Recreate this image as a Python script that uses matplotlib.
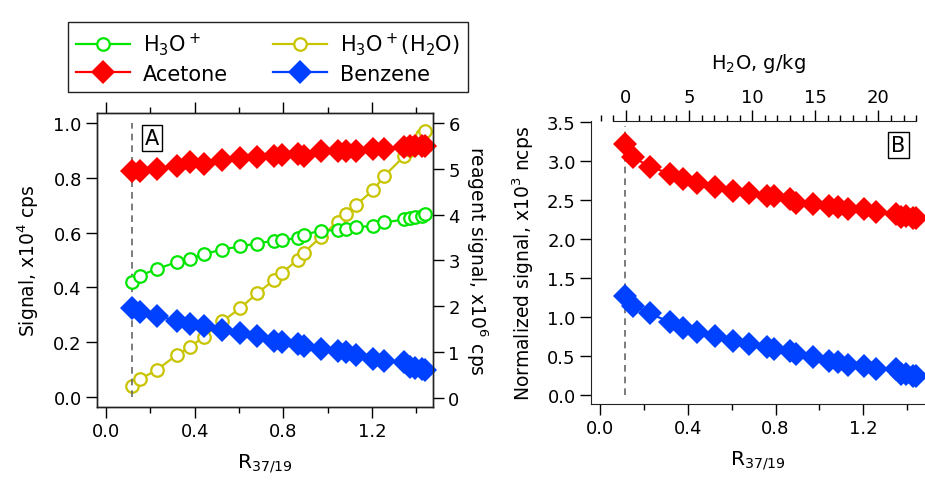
import matplotlib.pyplot as plt
from matplotlib.ticker import MultipleLocator
from matplotlib.lines import Line2D

plt.rcParams['font.family'] = ['DejaVu Sans']
plt.rcParams['mathtext.default'] = 'regular'

# R37/19 isotope ratio for each step of the humidity scan
r_ratio = [0.115, 0.152, 0.228, 0.319, 0.378, 0.442, 0.525, 0.605, 0.681, 0.760,
           0.795, 0.865, 0.892, 0.969, 1.045, 1.085, 1.128, 1.205, 1.257, 1.347,
           1.370, 1.393, 1.425, 1.441]

# panel A, raw signals (x10^4 cps)
h3o = [0.421, 0.443, 0.467, 0.492, 0.504, 0.522, 0.538, 0.550, 0.560, 0.571,
       0.573, 0.580, 0.592, 0.607, 0.609, 0.613, 0.619, 0.625, 0.637, 0.648,
       0.653, 0.658, 0.662, 0.668]
acetone_raw = [0.826, 0.826, 0.832, 0.844, 0.857, 0.850, 0.866, 0.871, 0.875, 0.881,
               0.884, 0.887, 0.881, 0.899, 0.896, 0.899, 0.899, 0.905, 0.905, 0.911,
               0.917, 0.915, 0.917, 0.915]
benzene_raw = [0.324, 0.309, 0.295, 0.279, 0.266, 0.258, 0.246, 0.234, 0.221, 0.206,
               0.200, 0.195, 0.187, 0.175, 0.169, 0.163, 0.154, 0.139, 0.133, 0.127,
               0.111, 0.106, 0.102, 0.099]
# reagent cluster ion (x10^6 cps, right axis)
h3o_h2o = [0.26, 0.41, 0.61, 0.94, 1.11, 1.34, 1.67, 1.96, 2.28, 2.58,
           2.73, 3.02, 3.17, 3.51, 3.85, 4.02, 4.21, 4.53, 4.85, 5.28,
           5.42, 5.55, 5.74, 5.82]

# panel B, normalized signals (x10^3 ncps)
acetone_norm = [3.22, 3.05, 2.93, 2.84, 2.77, 2.72, 2.67, 2.62, 2.59, 2.55,
                2.55, 2.52, 2.47, 2.45, 2.42, 2.41, 2.39, 2.39, 2.35, 2.32,
                2.29, 2.30, 2.27, 2.27]
benzene_norm = [1.275, 1.146, 1.048, 0.932, 0.856, 0.804, 0.753, 0.697, 0.654, 0.612,
                0.590, 0.569, 0.526, 0.483, 0.440, 0.419, 0.385, 0.376, 0.334, 0.330,
                0.269, 0.269, 0.248, 0.248]

GREEN = '#00e600'
YELLOW = '#c8c400'
RED = '#ff0000'
BLUE = '#0040ff'

TICK_FS = 13
LABEL_FS = 13.5

fig = plt.figure(figsize=(9.25, 4.81), dpi=100)

circ = dict(marker='o', ms=9, mfc='white', mew=1.6, lw=1.6)
diam = dict(marker='D', ms=12.5, mew=0, lw=1.6)


def style_ticks(ax):
    ax.tick_params(which='both', direction='out', labelsize=TICK_FS, width=1, pad=3)
    ax.tick_params(which='major', length=8)
    ax.tick_params(which='minor', length=4.5)


# ---- panel A ----
axA = fig.add_axes([0.1049, 0.1518, 0.3632, 0.6112])
axA2 = axA.twinx()
axA.set_zorder(axA2.get_zorder() + 1)
axA.patch.set_visible(False)

axA2.plot(r_ratio, h3o_h2o, color=YELLOW, clip_on=False, **circ)
axA.plot(r_ratio, h3o, color=GREEN, clip_on=False, **circ)
axA.plot(r_ratio, acetone_raw, color=RED, mfc=RED, clip_on=False, **diam)
axA.plot(r_ratio, benzene_raw, color=BLUE, mfc=BLUE, clip_on=False, **diam)
axA.vlines(r_ratio[0], 0, 1.0, colors='#666666', linestyles=(0, (4, 3)), lw=1.2, zorder=1)

axA.set_xlim(-0.041, 1.476)
axA.set_ylim(-0.0365, 1.0365)
axA2.set_ylim(-0.196, 6.218)
axA.xaxis.set_major_locator(MultipleLocator(0.4))
axA.xaxis.set_minor_locator(MultipleLocator(0.2))
axA.yaxis.set_major_locator(MultipleLocator(0.2))
axA2.yaxis.set_major_locator(MultipleLocator(1))
axA.xaxis.set_major_formatter('{x:.1f}')
axA.yaxis.set_major_formatter('{x:.1f}')
axA.tick_params(which='both', top=True, labeltop=False)
style_ticks(axA)
style_ticks(axA2)
axA2.tick_params(which='both', left=False)
for ax in (axA, axA2):
    for s in ax.spines.values():
        s.set_color('#222222')
        s.set_linewidth(1)

axA.set_xlabel('R$_{37/19}$', fontsize=14.5, labelpad=8)
axA.set_ylabel('Signal, x10$^4$ cps', fontsize=LABEL_FS, labelpad=9)
axA2.set_ylabel('reagent signal, x10$^6$ cps', fontsize=LABEL_FS, rotation=-90,
                va='bottom', labelpad=3)
axA.text(0.163, 0.915, 'A', transform=axA.transAxes, fontsize=15, ha='center', va='center',
         bbox=dict(boxstyle='square,pad=0.15', fc='white', ec='black', lw=1), zorder=5)

# ---- panel B ----
axB = fig.add_axes([0.6389, 0.158, 0.3611, 0.5884])
axB.plot(r_ratio, acetone_norm, color=RED, mfc=RED, clip_on=False, **diam)
axB.plot(r_ratio, benzene_norm, color=BLUE, mfc=BLUE, clip_on=False, **diam)
axB.vlines(r_ratio[0], 0, 3.45, colors='#666666', linestyles=(0, (4, 3)), lw=1.2, zorder=1)

axB.set_xlim(-0.041, 1.481)
axB.set_ylim(-0.1155, 3.517)
axB.xaxis.set_major_locator(MultipleLocator(0.4))
axB.xaxis.set_minor_locator(MultipleLocator(0.2))
axB.yaxis.set_major_locator(MultipleLocator(0.5))
axB.xaxis.set_major_formatter('{x:.1f}')
axB.yaxis.set_major_formatter('{x:.1f}')
style_ticks(axB)
axB.spines['right'].set_visible(False)
axB.spines['top'].set_visible(False)
for s in ('left', 'bottom'):
    axB.spines[s].set_color('#222222')
axB.set_xlabel('R$_{37/19}$', fontsize=14.5, labelpad=8)
axB.set_ylabel('Normalized signal, x10$^3$ ncps', fontsize=LABEL_FS, labelpad=8)
axB.text(0.921, 0.915, 'B', transform=axB.transAxes, fontsize=15, ha='center', va='center',
         bbox=dict(boxstyle='square,pad=0.15', fc='white', ec='black', lw=1), zorder=5)

# water content scale on top
axT = axB.twiny()
axT.set_xlim(-2.77, 23.7)
axT.xaxis.set_major_locator(MultipleLocator(5))
axT.xaxis.set_minor_locator(MultipleLocator(1))
axT.spines['top'].set_bounds(-1, 23)
axT.spines['top'].set_color('#222222')
for s in ('left', 'right', 'bottom'):
    axT.spines[s].set_visible(False)
style_ticks(axT)
axT.set_xlabel('H$_2$O, g/kg', fontsize=14, labelpad=14)

# ---- legend ----
handles = [
    Line2D([], [], color=GREEN, **circ),
    Line2D([], [], color=RED, mfc=RED, **diam),
    Line2D([], [], color=YELLOW, **circ),
    Line2D([], [], color=BLUE, mfc=BLUE, **diam),
]
labels = ['H$_3$O$^+$', 'Acetone', 'H$_3$O$^+$(H$_2$O)', 'Benzene']
leg = fig.legend(handles, labels, ncol=2, loc='lower left',
                 bbox_to_anchor=(0.0735, 0.8067, 0.4324, 0.1663), mode='expand',
                 fontsize=15, frameon=True, fancybox=False, framealpha=1,
                 edgecolor='#222222', handlelength=2.6, handletextpad=0.6,
                 borderaxespad=0, labelspacing=0.3, borderpad=0.4)
leg.get_frame().set_linewidth(1)

fig.savefig('out.png', dpi=100)
